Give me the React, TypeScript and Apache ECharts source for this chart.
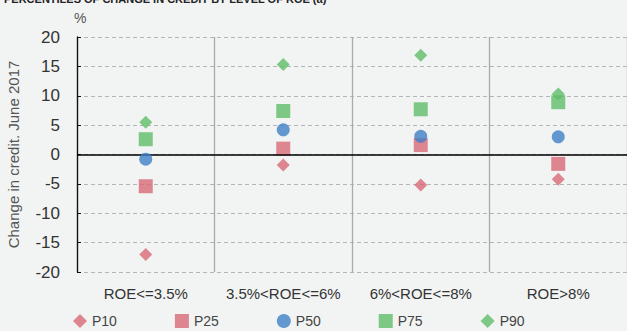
import React, { useEffect, useRef } from "react";
import * as echarts from "echarts";

const categories = ["ROE<=3.5%", "3.5%<ROE<=6%", "6%<ROE<=8%", "ROE>8%"];
const p10 = [-17.0, -1.8, -5.2, -4.2];
const p25 = [-5.4, 1.0, 1.6, -1.6];
const p50 = [-0.8, 4.2, 3.1, 3.0];
const p75 = [2.6, 7.4, 7.7, 8.9];
const p90 = [5.5, 15.3, 16.9, 10.3];

const RED = "#d86a76";
const BLUE = "#3d7fc6";
const GREEN = "#5fbd69";
const FONT = "Liberation Sans, Arial, sans-serif";

export default function App() {
  const ref = useRef<HTMLDivElement>(null);
  useEffect(() => {
    if (!ref.current) return;
    const chart = echarts.init(ref.current, null, { renderer: "svg" });
    const mk = (name: string, data: number[], symbol: string, size: number, color: string, z: number) => ({
      name,
      type: "scatter",
      data,
      symbol,
      symbolSize: size,
      itemStyle: { color },
      z,
    });
    chart.setOption({
      animation: false,
      backgroundColor: "#f2f4f3",
      textStyle: { fontFamily: FONT },
      title: {
        text: "PERCENTILES OF CHANGE IN CREDIT BY LEVEL OF ROE (a)",
        left: 4,
        top: -7,
        padding: 0,
        textStyle: { fontSize: 11, fontWeight: "bold", color: "#222", fontFamily: FONT },
      },
      graphic: [
        {
          type: "text",
          left: 74,
          top: 11,
          style: { text: "%", fontSize: 14, fill: "#555", fontFamily: FONT },
        },
      ],
      grid: { left: 77, right: 0, top: 37, bottom: 59, outerBoundsMode: "none", containLabel: false },
      legend: {
        data: [
          { name: "P10", icon: "diamond" },
          { name: "P25", icon: "rect" },
          { name: "P50", icon: "circle" },
          { name: "P75", icon: "rect" },
          { name: "P90", icon: "diamond" },
        ],
        left: 73,
        top: 314,
        padding: 0,
        itemWidth: 14,
        itemHeight: 14,
        itemGap: 58,
        textStyle: { fontSize: 14, lineHeight: 14, color: "#444", fontFamily: FONT },
      },
      xAxis: {
        type: "category",
        data: categories,
        boundaryGap: true,
        axisLine: { show: false },
        axisTick: { show: false, interval: 0 },
        splitLine: { show: true, interval: 0, lineStyle: { color: "#aaaaaa", width: 1.3, type: "solid" } },
        axisLabel: { interval: 0, fontSize: 15, color: "#333", margin: 14, fontFamily: FONT },
      },
      yAxis: {
        type: "value",
        min: -20,
        max: 20,
        interval: 5,
        name: "Change in credit. June 2017",
        nameLocation: "middle",
        nameRotate: 90,
        nameGap: 56,
        nameTextStyle: { fontSize: 15, color: "#555", fontFamily: FONT },
        axisLine: { show: true, lineStyle: { color: "#111", width: 1.3 } },
        axisTick: { show: true, inside: true, length: 4, lineStyle: { color: "#111" } },
        axisLabel: {
          fontSize: 17,
          color: "#333",
          margin: 17,
          fontFamily: FONT,
        },
        splitLine: { show: true, lineStyle: { color: "#b5b5b5", type: [4, 3], width: 1.2 } },
      },
      series: [
        {
          ...mk("P90", p90, "diamond", 13, GREEN, 2),
          markLine: {
            silent: true,
            symbol: "none",
            label: { show: false },
            lineStyle: { color: "#000", type: "solid", width: 1.5 },
            data: [{ yAxis: 0 }],
          },
        },
        mk("P10", p10, "diamond", 13, RED, 3),
        mk("P25", p25, "rect", 14, RED, 4),
        mk("P50", p50, "circle", 13, BLUE, 5),
        mk("P75", p75, "rect", 14, GREEN, 6),
      ],
    });
    return () => chart.dispose();
  }, []);
  return <div ref={ref} style={{ width: 627, height: 331, position: "absolute", left: 0, top: 0 }} />;
}
